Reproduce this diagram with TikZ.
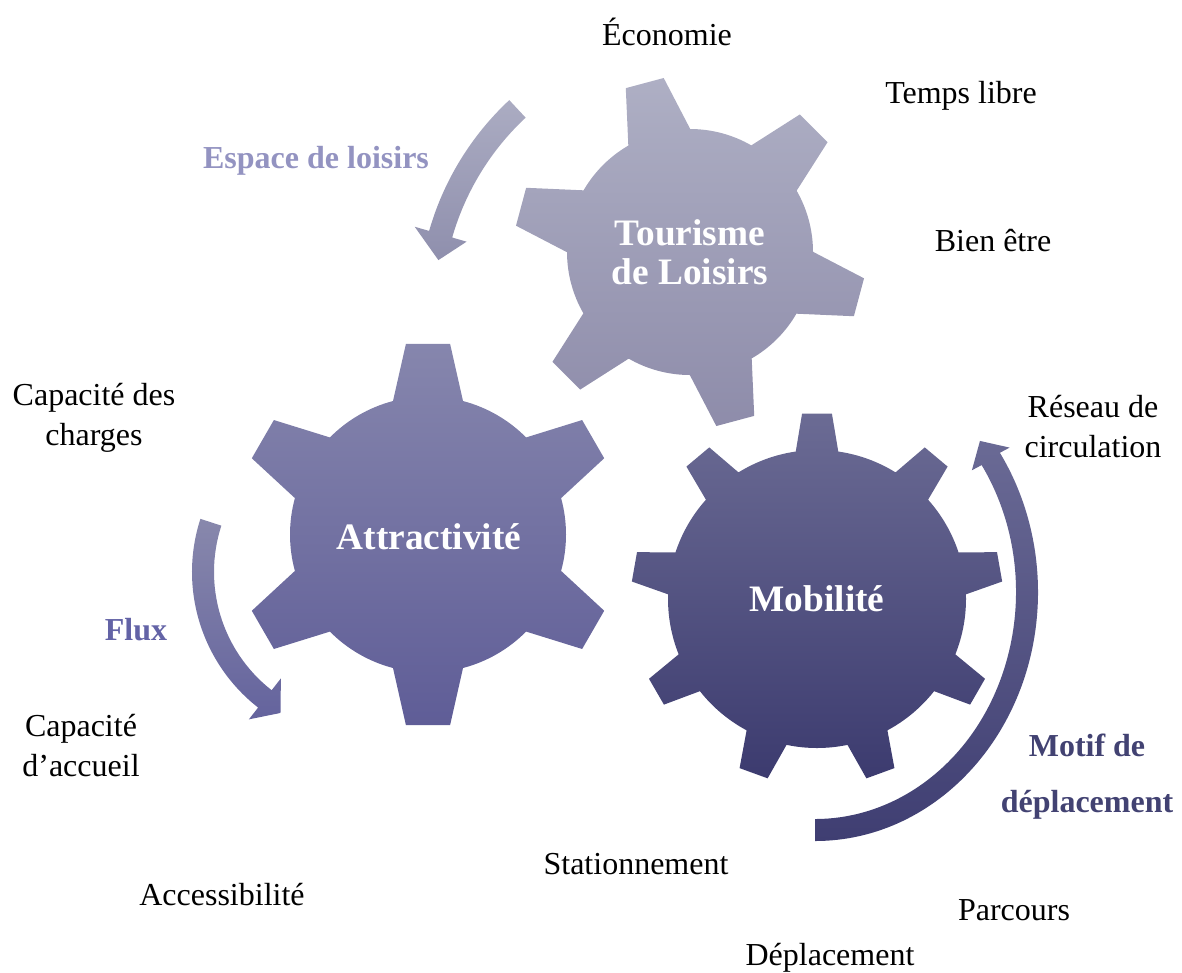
\documentclass[tikz,border=0pt]{standalone}
\usepackage{fontspec}
\setmainfont{Liberation Serif}
\usetikzlibrary{calc}
\definecolor{tourTop}{HTML}{AEAFC4}
\definecolor{tourBot}{HTML}{8E8CAA}
\definecolor{attrTop}{HTML}{8686AD}
\definecolor{attrBot}{HTML}{5F5D97}
\definecolor{mobiTop}{HTML}{6B6B94}
\definecolor{mobiBot}{HTML}{3C3B6F}
\definecolor{espTop}{HTML}{ABACC2}
\definecolor{espBot}{HTML}{8F8FAD}
\definecolor{flxTop}{HTML}{8888AC}
\definecolor{flxBot}{HTML}{64639D}
\definecolor{motTop}{HTML}{6A6A95}
\definecolor{motBot}{HTML}{3F3E72}
\definecolor{espTxt}{HTML}{9393C1}
\definecolor{flxTxt}{HTML}{6363A6}
\definecolor{motTxt}{HTML}{424272}

\begin{document}
\begin{tikzpicture}[x=0.375pt,y=0.375pt,
    txt/.style={align=center,inner sep=0pt,font=\fontsize{12}{15}\selectfont},
    geartxt/.style={align=center,inner sep=0pt,text=white,font=\bfseries\fontsize{14}{14.5}\selectfont},
    arrtxt/.style={align=center,inner sep=0pt,font=\bfseries\fontsize{12}{15}\selectfont}]
    \useasboundingbox (0,0) rectangle (1182,-972);

    % gears
    \begin{scope}[shift={(690,-252)}]
        \shade[top color=tourTop,bottom color=tourBot] (-150.1:123)
            \foreach \a in {-135,-75,...,165} {
                -- (\a-15.1:123) -- (\a-6.4:176) -- (\a+6.4:176) -- (\a+15.1:123)
                arc[start angle=\a+15.1,end angle=\a+44.9,radius=123]
            } -- cycle;
    \end{scope}
    \begin{scope}[shift={(428,-534.5)}]
        \shade[top color=attrTop,bottom color=attrBot] (-164.7:138)
            \foreach \a in {-150,-90,...,150} {
                -- (\a-14.7:138) -- (\a-6.6:192) -- (\a+6.6:192) -- (\a+14.7:138)
                arc[start angle=\a+14.7,end angle=\a+45.3,radius=138]
            } -- cycle;
    \end{scope}
    \begin{scope}[shift={(817,-599)}]
        \shade[top color=mobiTop,bottom color=mobiBot] (-158.2:149)
            \foreach \a in {-150,-110,...,170} {
                -- (\a-8.2:149) -- (\a-4.6:186) -- (\a+4.6:186) -- (\a+8.2:149)
                arc[start angle=\a+8.2,end angle=\a+31.8,radius=149]
            } -- cycle;
    \end{scope}

    % curved arrows
    \coordinate (esp) at (705,-310);
    \coordinate (flx) at (364,-572);
    \coordinate (mot) at (815,-592);
    \shade[top color=espTop,bottom color=espBot]
        ($(esp)+(133:287)$) arc[start angle=133,end angle=164,radius=287]
        -- ($(esp)+(164:302)$) -- ($(esp)+(164:275)+(265:26)$) -- ($(esp)+(164:248)$)
        -- ($(esp)+(164:263)$) arc[start angle=164,end angle=133,radius=263] -- cycle;
    \shade[top color=flxTop,bottom color=flxBot]
        ($(flx)+(162:172)$) arc[start angle=162,end angle=232,radius=172]
        -- ($(flx)+(232:187)$) -- ($(flx)+(232:161)+(318:21)$) -- ($(flx)+(232:135)$)
        -- ($(flx)+(232:150)$) arc[start angle=232,end angle=162,radius=150] -- cycle;
    \shade[top color=motTop,bottom color=motBot]
        ($(mot)+(-90:223 and 249)$) arc[start angle=-90,end angle=34,x radius=223,y radius=249]
        -- ($(mot)+(34:212 and 238)+(31:22)$) -- ($(mot)+(34:212 and 238)+(121:21)$)
        -- ($(mot)+(34:212 and 238)+(211:22)$)
        -- ($(mot)+(34:201 and 227)$) arc[start angle=34,end angle=-90,x radius=201,y radius=227] -- cycle;

    % texts
    \node[geartxt] (tour) at (690,-252) {Tourisme\\de Loisirs};
    \node[geartxt] (attr) at (429,-537) {Attractivité};
    \node[geartxt] (mobi) at (817,-599) {Mobilité};
    \node[arrtxt,text=espTxt] (espace) at (316,-161) {Espace de loisirs};
    \node[arrtxt,text=flxTxt] (flux) at (136,-630) {Flux};
    \node[arrtxt,text=motTxt,font=\bfseries\fontsize{12}{21}\selectfont] (motif) at (1087,-777) {Motif de\\déplacement};
    \node[txt] (eco) at (667,-32) {Économie};
    \node[txt] (temps) at (961,-96) {Temps libre};
    \node[txt] (bien) at (993,-241) {Bien être};
    \node[txt] (charges) at (94,-418) {Capacité des\\charges};
    \node[txt] (reseau) at (1093,-427) {Réseau de\\circulation};
    \node[txt] (accueil) at (81,-746) {Capacité\\d’accueil};
    \node[txt] (station) at (636,-864) {Stationnement};
    \node[txt] (access) at (222,-895) {Accessibilité};
    \node[txt] (parcours) at (1014,-910) {Parcours};
    \node[txt] (depl) at (830,-958) {Déplacement};
\end{tikzpicture}
\end{document}
